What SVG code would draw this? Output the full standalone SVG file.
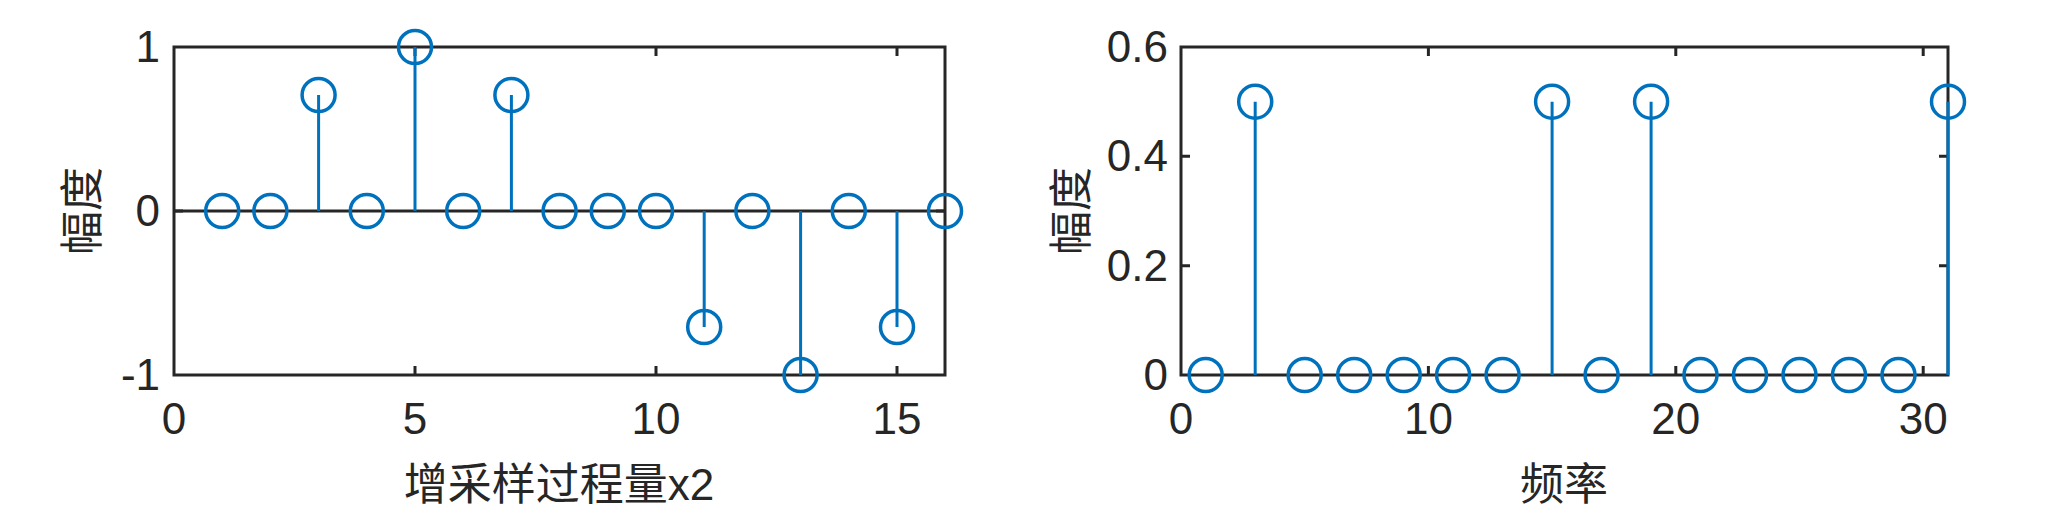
<svg xmlns="http://www.w3.org/2000/svg" width="2052" height="529" viewBox="0 0 2052 529">
<style>
.ax{fill:none;stroke:#262626;stroke-width:3}
.tk{stroke:#262626;stroke-width:3}
.st{stroke:#0072BD;stroke-width:3}
.mk{fill:none;stroke:#0072BD;stroke-width:3.5}
.n{font-family:"Liberation Sans",Arial,sans-serif;font-size:44px;fill:#262626}
.c{font-family:"Liberation Sans","Noto Sans CJK SC",sans-serif;font-size:44px;fill:#262626}
</style>
<rect width="2052" height="529" fill="#fff"/>
<g id="left-axes">
<rect class="ax" x="174" y="47" width="771" height="328"/>
<path class="tk" d="M415,375v-9M656,375v-9M897,375v-9M415,47v9M656,47v9M897,47v9M174,211h9M945,211h-9"/>
<line class="tk" x1="174" y1="211" x2="945" y2="211"/>
<g class="n" text-anchor="end"><text x="160" y="62">1</text><text x="160" y="226">0</text><text x="160" y="390">-1</text></g>
<g class="n" text-anchor="middle"><text x="174" y="434">0</text><text x="415" y="434">5</text><text x="656" y="434">10</text><text x="897" y="434">15</text></g>
<text class="c" text-anchor="middle" x="559" y="500">增采样过程量x2</text>
<text class="c" text-anchor="middle" transform="translate(98,211) rotate(-90)">幅度</text>
</g>
<g id="left-stems">
<path class="st" d="M318.6,211V95M415,211V47M511.4,211V95M704.2,211V327M800.6,211V375M897,211V327"/>
<g class="mk">
<circle cx="222.2" cy="211" r="16.5"/><circle cx="270.4" cy="211" r="16.5"/><circle cx="318.6" cy="95" r="16.5"/><circle cx="366.8" cy="211" r="16.5"/><circle cx="415" cy="47" r="16.5"/><circle cx="463.2" cy="211" r="16.5"/><circle cx="511.4" cy="95" r="16.5"/><circle cx="559.6" cy="211" r="16.5"/><circle cx="607.8" cy="211" r="16.5"/><circle cx="656" cy="211" r="16.5"/><circle cx="704.2" cy="327" r="16.5"/><circle cx="752.4" cy="211" r="16.5"/><circle cx="800.6" cy="375" r="16.5"/><circle cx="848.8" cy="211" r="16.5"/><circle cx="897" cy="327" r="16.5"/><circle cx="945" cy="211" r="16.5"/>
</g>
</g>
<g id="right-axes">
<rect class="ax" x="1181" y="47" width="767" height="328"/>
<path class="tk" d="M1428.4,375v-9M1675.8,375v-9M1923.2,375v-9M1428.4,47v9M1675.8,47v9M1923.2,47v9M1181,265.7h9M1181,156.3h9M1948,265.7h-9M1948,156.3h-9"/>
<g class="n" text-anchor="end"><text x="1168" y="62">0.6</text><text x="1168" y="171">0.4</text><text x="1168" y="281">0.2</text><text x="1168" y="390">0</text></g>
<g class="n" text-anchor="middle"><text x="1181" y="434">0</text><text x="1428.4" y="434">10</text><text x="1675.8" y="434">20</text><text x="1923.2" y="434">30</text></g>
<text class="c" text-anchor="middle" x="1564" y="500">频率</text>
<text class="c" text-anchor="middle" transform="translate(1087,211) rotate(-90)">幅度</text>
</g>
<g id="right-stems">
<path class="st" d="M1255.2,375V101.7M1552.1,375V101.7M1651.1,375V101.7M1948,375V101.7"/>
<g class="mk">
<circle cx="1205.7" cy="375" r="16.5"/><circle cx="1255.2" cy="101.7" r="16.5"/><circle cx="1304.7" cy="375" r="16.5"/><circle cx="1354.2" cy="375" r="16.5"/><circle cx="1403.7" cy="375" r="16.5"/><circle cx="1453.1" cy="375" r="16.5"/><circle cx="1502.6" cy="375" r="16.5"/><circle cx="1552.1" cy="101.7" r="16.5"/><circle cx="1601.6" cy="375" r="16.5"/><circle cx="1651.1" cy="101.7" r="16.5"/><circle cx="1700.5" cy="375" r="16.5"/><circle cx="1750" cy="375" r="16.5"/><circle cx="1799.5" cy="375" r="16.5"/><circle cx="1849" cy="375" r="16.5"/><circle cx="1898.5" cy="375" r="16.5"/><circle cx="1948" cy="101.7" r="16.5"/>
</g>
</g>
</svg>
